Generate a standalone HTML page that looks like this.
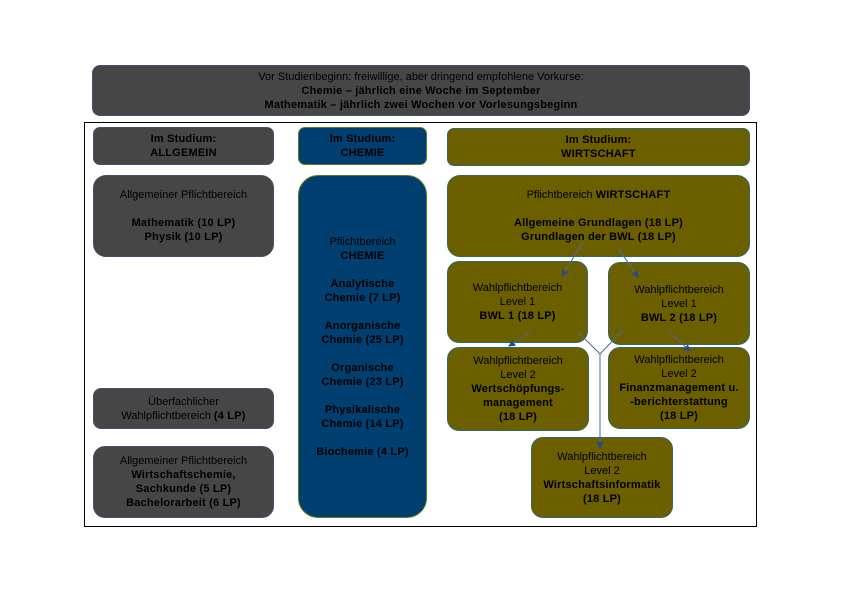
<!DOCTYPE html>
<html><head><meta charset="utf-8"><style>
html,body{margin:0;padding:0;background:#fff;}
body{width:842px;height:595px;position:relative;overflow:hidden;font-family:"Liberation Sans",Arial,sans-serif;}
.b{position:absolute;box-sizing:border-box;display:flex;flex-direction:column;justify-content:center;align-items:center;text-align:center;font-size:11px;line-height:14px;color:#000;white-space:nowrap;}
.b b{font-weight:bold;font-size:11px;letter-spacing:0.2px;color:#000;}
.g{background:#464646;border:1px solid #43506e;}
.c{background:#003f6f;border:1px solid #5d7a1e;}
.w{background:#6b5f00;border:1px solid #2f6a5e;}
.frame{position:absolute;left:84px;top:122px;width:673px;height:405px;box-sizing:border-box;border:1.5px solid #000;}
svg{position:absolute;left:0;top:0;}
</style></head><body>
<div class="b g" style="left:92px;top:65px;width:658px;height:51px;border-radius:8px;">
<span>Vor Studienbeginn: freiwillige, aber dringend empfohlene Vorkurse:</span>
<b>Chemie – jährlich eine Woche im September</b>
<b>Mathematik – jährlich zwei Wochen vor Vorlesungsbeginn</b>
</div>
<div class="frame"></div>

<div class="b g" style="left:93px;top:127px;width:181px;height:38px;border-radius:7px;"><b>Im Studium:</b><b>ALLGEMEIN</b></div>
<div class="b c" style="left:298px;top:127px;width:129px;height:38px;border-radius:7px;"><b>Im Studium:</b><b>CHEMIE</b></div>
<div class="b w" style="left:447px;top:128px;width:303px;height:38px;border-radius:7px;"><b>Im Studium:</b><b>WIRTSCHAFT</b></div>

<div class="b g" style="left:93px;top:175px;width:181px;height:82px;border-radius:13px;">
<span>Allgemeiner Pflichtbereich</span><span>&nbsp;</span><b>Mathematik (10 LP)</b><b>Physik (10 LP)</b></div>
<div class="b g" style="left:93px;top:388px;width:181px;height:41px;border-radius:8px;">
<span>Überfachlicher</span><span>Wahlpflichtbereich <b>(4 LP)</b></span></div>
<div class="b g" style="left:93px;top:446px;width:181px;height:72px;border-radius:12px;">
<span>Allgemeiner Pflichtbereich</span><b>Wirtschaftschemie,</b><b>Sachkunde (5 LP)</b><b>Bachelorarbeit (6 LP)</b></div>

<div class="b c" style="left:298px;top:175px;width:129px;height:343px;border-radius:20px;">
<span>Pflichtbereich</span><b>CHEMIE</b><span>&nbsp;</span>
<b>Analytische</b><b>Chemie (7 LP)</b><span>&nbsp;</span>
<b>Anorganische</b><b>Chemie (25 LP)</b><span>&nbsp;</span>
<b>Organische</b><b>Chemie (23 LP)</b><span>&nbsp;</span>
<b>Physikalische</b><b>Chemie (14 LP)</b><span>&nbsp;</span>
<b>Biochemie (4 LP)</b></div>

<div class="b w" style="left:447px;top:175px;width:303px;height:82px;border-radius:13px;">
<span>Pflichtbereich <b>WIRTSCHAFT</b></span><span>&nbsp;</span><b>Allgemeine Grundlagen (18 LP)</b><b>Grundlagen der BWL (18 LP)</b></div>
<div class="b w" style="left:447px;top:261px;width:141px;height:82px;border-radius:12px;">
<span>Wahlpflichtbereich</span><span>Level 1</span><b>BWL 1 (18 LP)</b></div>
<div class="b w" style="left:608px;top:262px;width:142px;height:83px;border-radius:12px;">
<span>Wahlpflichtbereich</span><span>Level 1</span><b>BWL 2 (18 LP)</b></div>
<div class="b w" style="left:447px;top:347px;width:142px;height:84px;border-radius:12px;">
<span>Wahlpflichtbereich</span><span>Level 2</span><b>Wertschöpfungs-</b><b>management</b><b>(18 LP)</b></div>
<div class="b w" style="left:608px;top:347px;width:142px;height:82px;border-radius:12px;">
<span>Wahlpflichtbereich</span><span>Level 2</span><b>Finanzmanagement u.</b><b>-berichterstattung</b><b>(18 LP)</b></div>
<div class="b w" style="left:531px;top:437px;width:142px;height:81px;border-radius:12px;">
<span>Wahlpflichtbereich</span><span>Level 2</span><b>Wirtschaftsinformatik</b><b>(18 LP)</b></div>

<svg width="842" height="595" viewBox="0 0 842 595">
<defs><marker id="a" markerWidth="7" markerHeight="7" refX="6" refY="3.5" orient="auto" markerUnits="userSpaceOnUse">
<path d="M0,0 L7,3.5 L0,7 z" fill="#2a4a8a"/></marker></defs>
<g stroke="#4a6a9a" stroke-width="1" fill="none">
<line x1="583" y1="242" x2="562" y2="276" marker-end="url(#a)"/>
<line x1="618" y1="248" x2="638" y2="277" marker-end="url(#a)"/>
<line x1="531" y1="332" x2="509" y2="346" marker-end="url(#a)"/>
<line x1="669" y1="332" x2="690" y2="351" marker-end="url(#a)"/>
<polyline points="578,332 600,354 623,330"/>
<line x1="600" y1="354" x2="600" y2="448" marker-end="url(#a)"/>
</g>
</svg>
</body></html>
